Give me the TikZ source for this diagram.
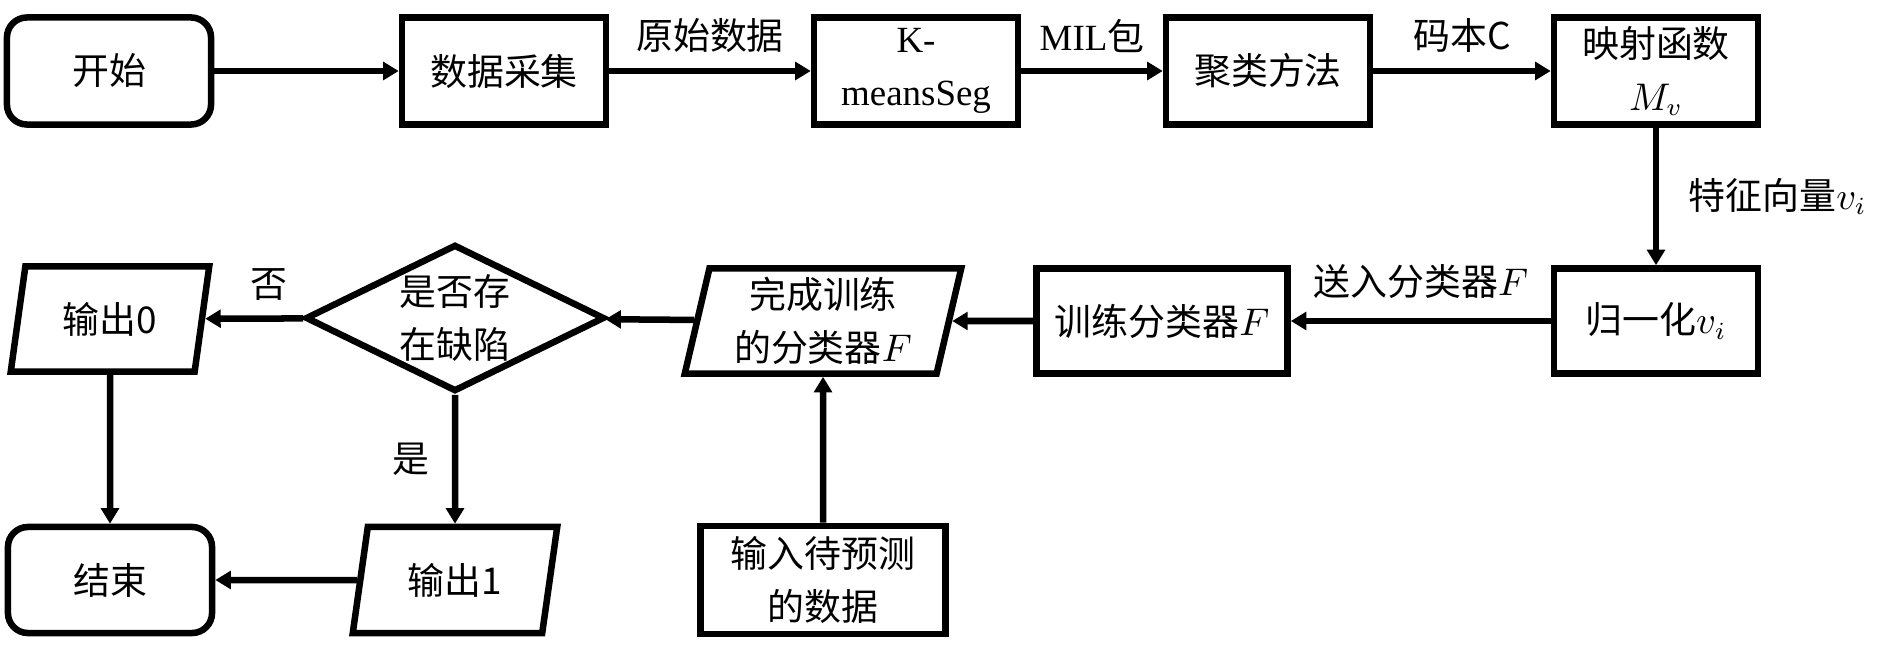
\documentclass[tikz,border=0pt]{standalone}
\usepackage{fontspec}
\setmainfont{Liberation Serif}
\newfontfamily\cjk{Noto Sans CJK SC}
\usetikzlibrary{arrows.meta}
\usetikzlibrary{shapes.geometric}

\tikzset{
  every node/.style={font=\cjk\fontsize{10.5}{15}\selectfont},
  box/.style={draw, line width=1.85pt, minimum width=2.04cm, minimum height=1.07cm, align=center, inner sep=2pt},
  startend/.style={box, rounded corners=0.2cm},
  io/.style={draw, line width=1.85pt, trapezium, trapezium left angle=78, trapezium right angle=102,
             trapezium stretches=true, minimum height=1.05cm, align=center, inner sep=1pt},
  decide/.style={draw, line width=1.85pt, diamond, aspect=2, minimum width=2.99cm, minimum height=1.47cm,
                 inner sep=0pt, align=center},
  flow/.style={line width=1.85pt, -{Triangle[length=4.4pt, width=5pt]}},
}

\begin{document}
\begin{tikzpicture}[x=0.01cm, y=-0.01cm]

\useasboundingbox (0, 0) rectangle (1877, 649);

% upper row
\node [startend] (start) at (109, 71) {开始};
\node [box] (collect) at (504, 71) {数据采集};
\node [box] (kmeans) at (916, 71) {{\rmfamily K-}\\{\rmfamily meansSeg}};
\node [box] (cluster) at (1268, 71) {聚类方法};
\node [box] (mapping) at (1656, 71) {映射函数\\$M_v$};

% middle row
\node [box, minimum height=1.05cm] (norm) at (1656, 321) {归一化$v_i$};
\node [box, minimum height=1.05cm, minimum width=2.51cm] (train) at (1162, 321) {训练分类器$F$};
\node [io, minimum width=2.77cm] (done) at (823, 321) {完成训练\\的分类器$F$};
\node [decide] (defect) at (455, 318) {是否存\\在缺陷};
\node [io, minimum width=1.99cm] (out0) at (110, 319) {输出0};

% lower row
\node [startend, minimum height=1.06cm] (finish) at (110, 580) {结束};
\node [io, minimum width=2.05cm, minimum height=1.06cm] (out1) at (455, 580) {输出1};
\node [box, minimum height=1.08cm, minimum width=2.45cm] (input) at (823, 580) {输入待预测\\的数据};

\draw [flow] (start) -- (collect);
\draw [flow] (collect) -- node [above=1pt] {原始数据} (kmeans);
\draw [flow] (kmeans) -- node [above=1pt] {{\rmfamily MIL}包} (cluster);
\draw [flow] (cluster) -- node [above=1pt] {码本C} (mapping);
\draw [flow] (mapping) -- node [right=5pt] {特征向量$v_i$} (norm);
\draw [flow] (norm) -- node [above=2pt] {送入分类器$F$} (train);
\draw [flow] (train) -- (done);
\draw [flow] (done) -- (defect);
\draw [flow] (defect) -- node [above=1pt, pos=0.35] {否} (out0);
\draw [flow] (defect) -- node [left=3pt] {是} (out1);
\draw [flow] (out0) -- (finish);
\draw [flow] (out1) -- (finish);
\draw [flow] (input) -- (done);
\end{tikzpicture}
\end{document}
